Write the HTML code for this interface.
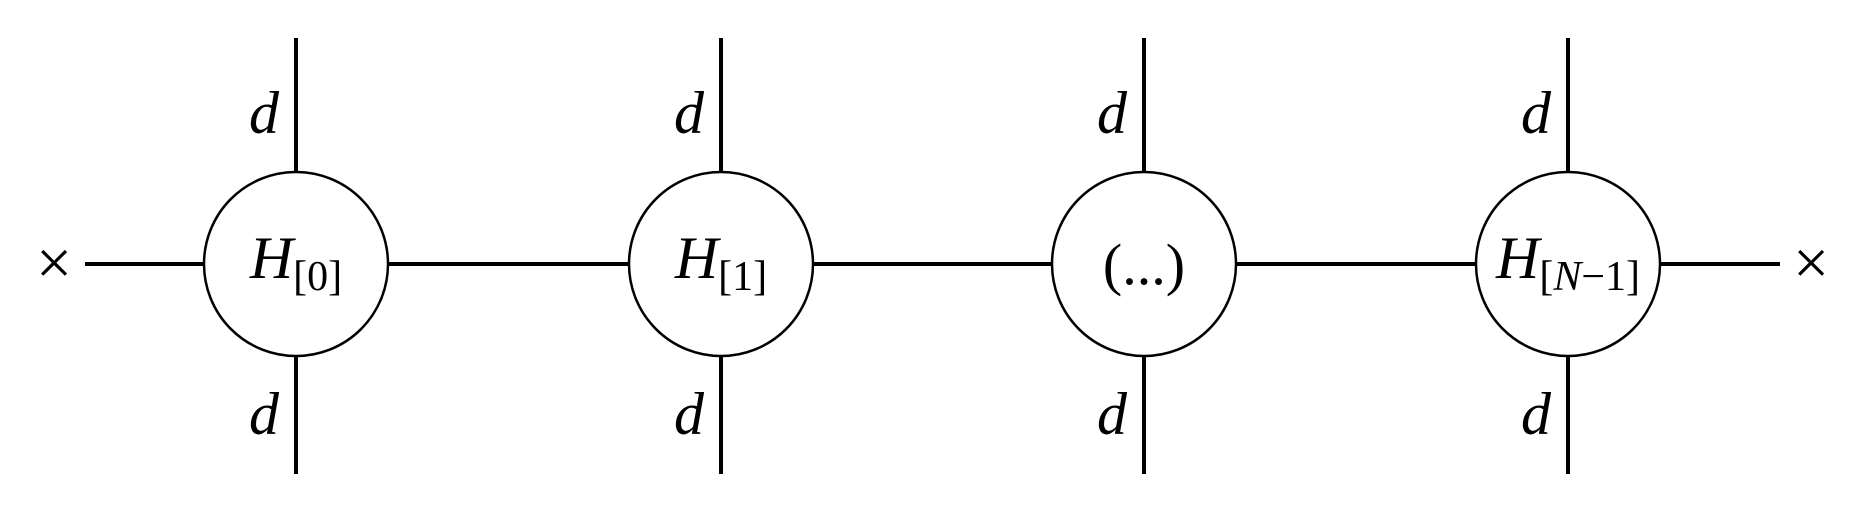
<!DOCTYPE html>
<html><head><meta charset="utf-8"><style>
html,body{margin:0;padding:0;background:#fff;}
svg{display:block;}
text{font-family:"Liberation Serif",serif;fill:#000;}
</style></head><body>
<svg width="1865" height="532" viewBox="0 0 1865 532">
  <line x1="85" y1="264" x2="1780" y2="264" stroke="#000" stroke-width="4"/>
  <text x="54" y="284" font-size="64" text-anchor="middle">×</text>
  <text x="1811" y="284" font-size="64" text-anchor="middle">×</text>
  <g id="nodes"></g>
</svg>
<script>
const nodeX = [296, 721, 1144, 1568];
const nodeSub = ["[0]", "[1]", null, "[N\u22121]"];
const g = document.getElementById('nodes');
const NS = 'http://www.w3.org/2000/svg';
function mk(tag, attrs){const e=document.createElementNS(NS,tag);for(const k in attrs)e.setAttribute(k,attrs[k]);return e;}
nodeX.forEach((x,i)=>{
  const leg = mk('line',{x1:x,y1:38,x2:x,y2:474,stroke:'#000','stroke-width':4});
  
  
  g.appendChild(leg);
  const c = mk('circle',{cx:x,cy:264,r:92,fill:'#fff',stroke:'#000','stroke-width':2.5});
  
  
  g.appendChild(c);
  [133,434].forEach(y=>{
    const d = mk('text',{x:x-32,y:y,'font-size':60,'font-style':'italic','text-anchor':'middle'});
    d.textContent='d';
    
    
    g.appendChild(d);
  });
  const t = mk('text',{x:x,y:278,'text-anchor':'middle','font-size':60});
  
  
  if(nodeSub[i]===null){
    t.setAttribute('y',284);
    t.setAttribute('font-size',58);
    t.textContent='(...)';
  } else {
    const h = mk('tspan',{'font-style':'italic'}); h.textContent='H';
    const s = mk('tspan',{'font-size':42,dy:12});
    if(nodeSub[i].indexOf('N')>=0){
      s.appendChild(document.createTextNode('['));
      const n = mk('tspan',{'font-style':'italic'}); n.textContent='N';
      s.appendChild(n);
      s.appendChild(document.createTextNode('\u22121]'));
    } else s.textContent=nodeSub[i];
    t.appendChild(h); t.appendChild(s);
  }
  g.appendChild(t);
});
</script>
</body></html>
